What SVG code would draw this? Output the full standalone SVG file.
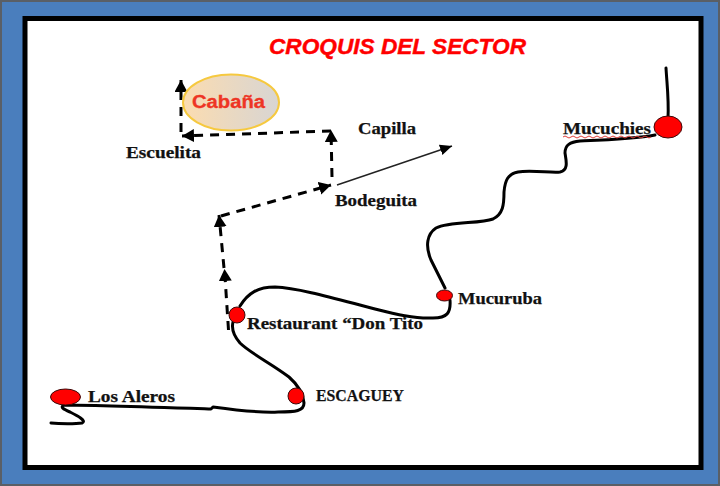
<svg xmlns="http://www.w3.org/2000/svg" width="720" height="486" viewBox="0 0 720 486">
  <style>
    .road { fill: none; stroke: #000; stroke-width: 3; stroke-linecap: round; stroke-linejoin: round; }
    .dash { fill: none; stroke: #000; stroke-width: 3; stroke-dasharray: 9 7; marker-end: url(#head); }
    .stop { fill: #f00; stroke: #3a0a0a; stroke-width: 1; }
    .lbl { font-family: "Liberation Serif", "DejaVu Serif", serif; font-weight: bold; font-size: 16.5px; fill: #111; stroke: #111; stroke-width: 0.25; }
  </style>
  <defs>
    <marker id="head" markerUnits="userSpaceOnUse" markerWidth="14" markerHeight="14" refX="12" refY="6.5" orient="auto">
      <path d="M0 0L12 6.5L0 13Z" fill="#000"/>
    </marker>
    <marker id="thin" markerUnits="userSpaceOnUse" markerWidth="14" markerHeight="14" refX="12" refY="5.5" orient="auto">
      <path d="M0 0L12 5.5L0 11Z" fill="#000"/>
    </marker>
    <linearGradient id="peach" x1="0" y1="0" x2="1" y2="0">
      <stop offset="0" stop-color="#fbdcb0"/>
      <stop offset="1" stop-color="#d8d5d3"/>
    </linearGradient>
  </defs>

  <rect x="0" y="0" width="720" height="486" fill="#5a5f66"/>
  <rect x="2" y="2" width="716" height="482" fill="#4a7ebd"/>
  <rect x="25" y="18.500" width="676" height="449" fill="#fff" stroke="#000" stroke-width="5"/>

  <text x="269" y="54" font-family="'Liberation Sans', Arial, sans-serif" font-size="21.500" font-weight="bold" font-style="italic" fill="#f00" stroke="#f00" stroke-width="0.4" textLength="257" lengthAdjust="spacingAndGlyphs">CROQUIS DEL SECTOR</text>

  <g id="connectors">
    <path class="road" d="M51 423C60 424 76 424 82 423C87 421 78 416 70 412C63 409 60 407 64 405C90 405 150 407 211 409L213 407C235 410 260 413 278 412C296 412 304 411 304 403C303 393 297 384 289 377C272 364 250 353 240 343C234 336 231 330 233 322"/>
    <path class="road" d="M240 306C248 293 258 287 275 287C300 288 340 300 375 309C395 314 415 319 433 318C447 318 451 313 450 300"/>
    <path class="road" d="M445 288L431 260C425 246 427 234 436 228C450 221 480 224 493 219C503 214 504 205 504 192C505 180 508 174 518 172C530 170 552 173 560 172C569 170 566 160 565 153C565 145 570 142 580 141C605 140 635 139 655 135"/>
    <path class="road" d="M666 68C667 85 669 100 668 118"/>
    <path class="dash" d="M228.500 330L224.500 269"/>
    <path class="dash" d="M224 268L219 215"/>
    <path class="dash" d="M221 216L331 185"/>
    <path class="dash" d="M332 177L331 130"/>
    <path class="dash" d="M331 131L182 136"/>
    <path class="dash" d="M181 132L181 80"/>
    <path d="M337 185L452 146" fill="none" stroke="#222" stroke-width="1.500" marker-end="url(#thin)"/>
    <path d="M563 137q2 -2 4 0t4 0t4 0t4 0t4 0t4 0t4 0t4 0t4 0t4 0t4 0t4 0t4 0t4 0t4 0t4 0t4 0t4 0t4 0t4 0t4 0t4 0" fill="none" stroke="#e0403a" stroke-width="1"/>
  </g>

  <g id="cabana">
    <ellipse cx="231" cy="102.500" rx="48" ry="28" fill="url(#peach)" stroke="#f6c93f" stroke-width="2"/>
    <text x="192" y="108" font-family="'Liberation Sans', Arial, sans-serif" font-size="17.500" font-weight="bold" fill="#ee3524" stroke="#ee3524" stroke-width="0.3" textLength="73" lengthAdjust="spacingAndGlyphs">Cabaña</text>
  </g>
  <g id="escuelita"><text class="lbl" x="126" y="158" textLength="75" lengthAdjust="spacingAndGlyphs">Escuelita</text></g>
  <g id="capilla"><text class="lbl" x="358" y="134" textLength="58" lengthAdjust="spacingAndGlyphs">Capilla</text></g>
  <g id="bodeguita"><text class="lbl" x="335" y="206" textLength="82" lengthAdjust="spacingAndGlyphs">Bodeguita</text></g>
  <g id="los-aleros">
    <ellipse class="stop" cx="65.500" cy="397" rx="15" ry="8"/>
    <text class="lbl" x="88" y="402" textLength="87" lengthAdjust="spacingAndGlyphs">Los Aleros</text>
  </g>
  <g id="escaguey">
    <circle class="stop" cx="296" cy="396" r="8"/>
    <text class="lbl" x="316" y="401" textLength="88" lengthAdjust="spacingAndGlyphs">ESCAGUEY</text>
  </g>
  <g id="restaurant">
    <circle class="stop" cx="237" cy="315" r="8"/>
    <text class="lbl" x="247" y="329" textLength="176" lengthAdjust="spacingAndGlyphs">Restaurant “Don Tito</text>
  </g>
  <g id="mucuruba">
    <ellipse class="stop" cx="444.500" cy="295.500" rx="8" ry="5.500"/>
    <text class="lbl" x="458" y="304" textLength="84" lengthAdjust="spacingAndGlyphs">Mucuruba</text>
  </g>
  <g id="mucuchies">
    <ellipse class="stop" cx="668" cy="127" rx="14" ry="11"/>
    <text class="lbl" x="563" y="134" textLength="88" lengthAdjust="spacingAndGlyphs">Mucuchies</text>
  </g>
</svg>
